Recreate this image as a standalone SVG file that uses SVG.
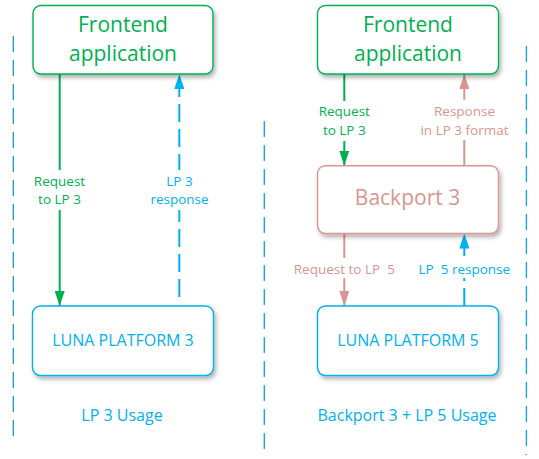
<svg xmlns="http://www.w3.org/2000/svg" width="539" height="459" viewBox="0 0 539 459">
<style>
text{font-family:"Open Sans","Noto Sans","Liberation Sans",sans-serif;text-anchor:middle}
.box{fill:#fff;stroke-width:1.4;filter:url(#sh)}
.g{fill:#00b050}.gs{stroke:#00b050}
.b{fill:#00b0f0}.bs{stroke:#00b0f0}
.p{fill:#d9958f}.ps{stroke:#d9958f}
.big{font-size:21px}
.mid{font-size:16px}
.sm{font-size:13.5px}
.sep{stroke:#1ea3dc;stroke-width:1.4;stroke-dasharray:16 8;fill:none}
.arr{stroke-width:2;fill:none}
.dash{stroke-dasharray:18 7}
.bg{fill:#fff}
</style>
<defs>
<filter id="sh" x="-10%" y="-10%" width="125%" height="130%">
<feDropShadow dx="2" dy="3" stdDeviation="2" flood-color="#000" flood-opacity="0.3"/>
</filter>
<marker id="mg" markerUnits="userSpaceOnUse" markerWidth="15" markerHeight="10" refX="15" refY="5" viewBox="0 0 15 10" orient="auto"><path d="M0,0L15,5L0,10z" fill="#00b050"/></marker>
<marker id="mb" markerUnits="userSpaceOnUse" markerWidth="15" markerHeight="10" refX="15" refY="5" viewBox="0 0 15 10" orient="auto"><path d="M0,0L15,5L0,10z" fill="#00b0f0"/></marker>
<marker id="mp" markerUnits="userSpaceOnUse" markerWidth="15" markerHeight="10" refX="15" refY="5" viewBox="0 0 15 10" orient="auto"><path d="M0,0L15,5L0,10z" fill="#d9958f"/></marker>
</defs>

<g id="separators">
<line class="sep" x1="13.3" y1="36" x2="13.3" y2="437"/>
<line class="sep" x1="264.3" y1="121" x2="264.3" y2="450"/>
<line class="sep" x1="526.4" y1="46" x2="526.4" y2="455"/>
</g>

<g id="connectors">
<line class="arr gs" x1="59.7" y1="74" x2="59.7" y2="306" marker-end="url(#mg)"/>
<line class="arr bs dash" x1="179.3" y1="297" x2="179.3" y2="74" marker-end="url(#mb)"/>
<line class="arr gs" x1="344.3" y1="74" x2="344.3" y2="165.7" marker-end="url(#mg)"/>
<line class="arr ps dash" x1="464.3" y1="165.7" x2="464.3" y2="74" marker-end="url(#mp)" style="stroke-dasharray:26 7"/>
<line class="arr ps" x1="344.3" y1="233.5" x2="344.3" y2="306" marker-end="url(#mp)"/>
<line class="arr bs dash" x1="464.3" y1="306" x2="464.3" y2="233.5" marker-end="url(#mb)"/>
<rect class="bg" x="28" y="170" width="62" height="40"/>
<rect class="bg" x="148" y="170" width="64" height="40"/>
<rect class="bg" x="316" y="101" width="58" height="40"/>
<rect class="bg" x="416" y="100" width="98" height="40"/>
<rect class="bg" x="290" y="258" width="110" height="20"/>
<rect class="bg" x="416" y="258" width="98" height="20"/>
<text class="sm g" x="59.5" y="185.5">Request</text>
<text class="sm g" x="59.5" y="203.5">to LP 3</text>
<text class="sm b" x="179.5" y="185.5">LP 3</text>
<text class="sm b" x="179.5" y="203.5">response</text>
<text class="sm g" x="344.3" y="116">Request</text>
<text class="sm g" x="344.3" y="134.5">to LP 3</text>
<text class="sm p" x="464.5" y="116">Response</text>
<text class="sm p" x="464.5" y="134.5">in LP 3 format</text>
<text class="sm p" x="344.3" y="273.5" xml:space="preserve">Request to LP  5</text>
<text class="sm b" x="464.3" y="273.5" xml:space="preserve">LP  5 response</text>
</g>

<g id="frontend-left">
<rect class="box gs" x="33" y="5.5" width="180" height="68.5" rx="8"/>
<text class="big g" x="123" y="32">Frontend</text>
<text class="big g" x="123" y="61">application</text>
</g>
<g id="lp3">
<rect class="box bs" x="32.5" y="306" width="181" height="69.5" rx="8"/>
<text class="mid b" x="123" y="345.5">LUNA PLATFORM 3</text>
</g>
<g id="frontend-right">
<rect class="box gs" x="317.5" y="5.5" width="181" height="68.5" rx="8"/>
<text class="big g" x="408" y="32">Frontend</text>
<text class="big g" x="408" y="61">application</text>
</g>
<g id="backport">
<rect class="box ps" x="317.5" y="165.7" width="181" height="67.8" rx="8"/>
<text class="big p" x="407.5" y="205">Backport 3</text>
</g>
<g id="lp5">
<rect class="box bs" x="317.5" y="306" width="181" height="69.5" rx="8"/>
<text class="mid b" x="408" y="345.5">LUNA PLATFORM 5</text>
</g>
<g id="captions">
<text class="mid b" x="122" y="421">LP 3 Usage</text>
<text class="mid b" x="407" y="421">Backport 3 + LP 5 Usage</text>
</g>
</svg>
